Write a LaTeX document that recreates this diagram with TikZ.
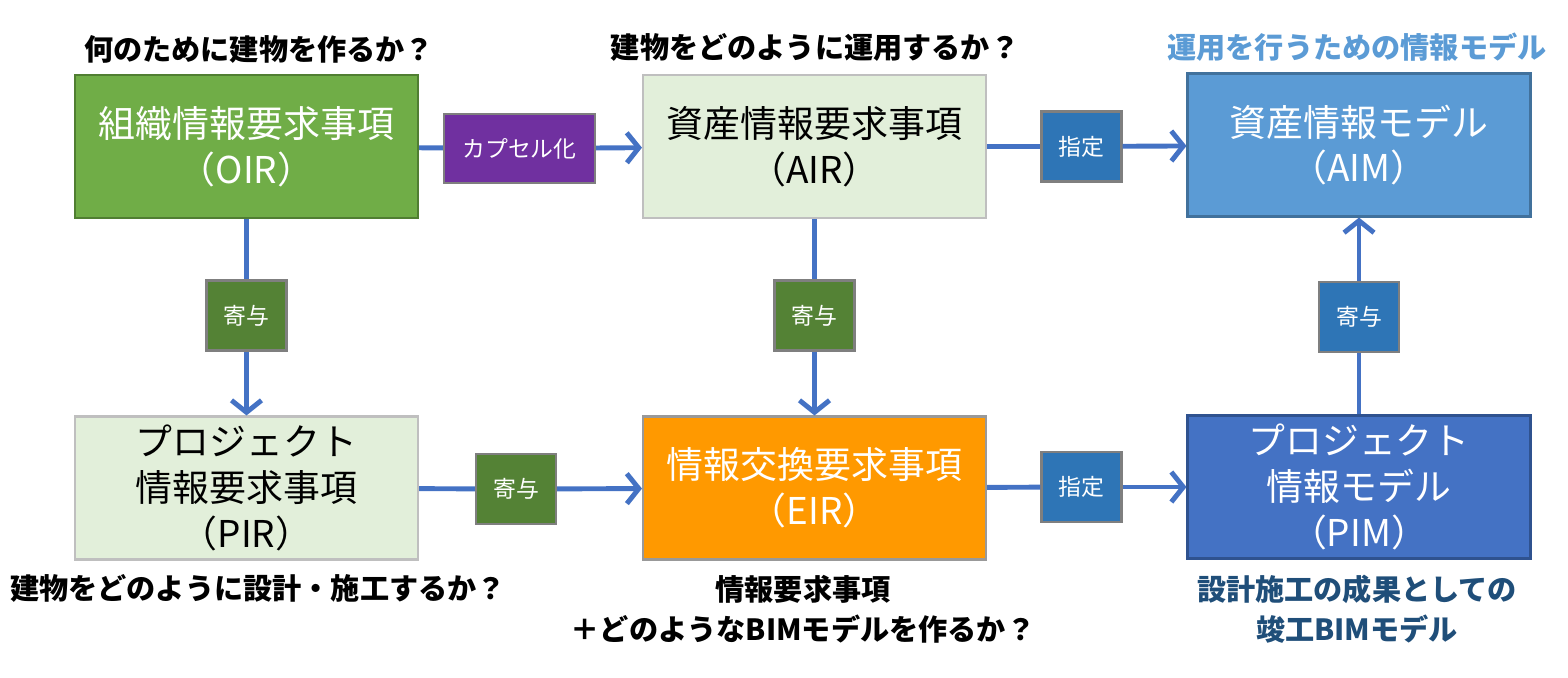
\documentclass[tikz,border=0pt]{standalone}
\usepackage{fontspec}
\setmainfont{Noto Sans CJK JP}
\usepackage{tikz}
\usetikzlibrary{arrows.meta, positioning}

\definecolor{oirgreen}{HTML}{70AD47}
\definecolor{oirline}{HTML}{507E32}
\definecolor{palegreen}{HTML}{E2EFDA}
\definecolor{paleline}{HTML}{BFBFBF}
\definecolor{aimblue}{HTML}{5B9BD5}
\definecolor{aimline}{HTML}{41719C}
\definecolor{pimblue}{HTML}{4472C4}
\definecolor{pimline}{HTML}{2F528F}
\definecolor{eirorange}{HTML}{FF9900}
\definecolor{capspurple}{HTML}{7030A0}
\definecolor{kiyogreen}{HTML}{548235}
\definecolor{shiteiblue}{HTML}{2E75B6}
\definecolor{tagline}{HTML}{7F7F7F}
\definecolor{arrowblue}{HTML}{4472C4}
\definecolor{darkblue}{HTML}{1F4E79}

\newcommand{\bigtxt}{\fontsize{21}{26}\selectfont}
\newcommand{\tagtxt}{\fontsize{13}{16}\selectfont}
\newcommand{\headtxt}{\fontsize{16.6}{23}\selectfont\bfseries}

\begin{document}
\begin{tikzpicture}[x=0.02cm, y=-0.02cm,
  bigbox/.style={draw, line width=1.2pt, minimum width=6.86cm, minimum height=2.86cm,
    align=center, font=\bigtxt, inner sep=0pt},
  tagbox/.style={draw=tagline, line width=1.2pt, minimum width=1.6cm, minimum height=1.4cm,
    text=white, font=\tagtxt, inner sep=0pt},
  headline/.style={font=\headtxt, align=center, inner sep=0pt},
  conn/.style={draw=arrowblue, line width=2.8pt},
  arr/.style={conn, -{Straight Barb[length=2.4mm, width=6mm]}}]
  \useasboundingbox (0,0) rectangle (1568,677);

  % 情報要求・情報モデルの箱
  \node[bigbox, fill=oirgreen, draw=oirline, text=white] (oir) at (246.5,146.5) {組織情報要求事項\\（OIR）};
  \node[bigbox, fill=palegreen, draw=paleline] (air) at (814.5,146.5) {資産情報要求事項\\（AIR）};
  \node[bigbox, fill=aimblue, draw=aimline, text=white] (aim) at (1359,145) {資産情報モデル\\（AIM）};
  \node[bigbox, fill=palegreen, draw=paleline] (pir) at (246.5,488) {プロジェクト\\情報要求事項\\（PIR）};
  \node[bigbox, fill=eirorange, draw=paleline!80!black, text=white] (eir) at (814.5,488) {情報交換要求事項\\（EIR）};
  \node[bigbox, fill=pimblue, draw=pimline, text=white] (pim) at (1359,487) {プロジェクト\\情報モデル\\（PIM）};

  % 関係のラベル
  \node[tagbox, fill=capspurple, minimum width=3.02cm, minimum height=1.38cm] (caps) at (519.5,148.5) {カプセル化};
  \node[tagbox, fill=shiteiblue] (spec1) at (1081.5,146.5) {指定};
  \node[tagbox, fill=kiyogreen] (contrib1) at (246.5,315.5) {寄与};
  \node[tagbox, fill=kiyogreen] (contrib2) at (814.5,315.5) {寄与};
  \node[tagbox, fill=shiteiblue] (contrib3) at (1359,317) {寄与};
  \node[tagbox, fill=kiyogreen] (contrib4) at (516,489) {寄与};
  \node[tagbox, fill=shiteiblue] (spec2) at (1081.5,487) {指定};

  % 矢印
  \draw[conn] (oir) -- (caps);
  \draw[arr] (caps) -- (air);
  \draw[conn] (air) -- (spec1);
  \draw[arr] (spec1) -- (aim);
  \draw[conn] (oir) -- (contrib1);
  \draw[arr] (contrib1) -- (pir);
  \draw[conn] (air) -- (contrib2);
  \draw[arr] (contrib2) -- (eir);
  \draw[conn] (pim) -- (contrib3);
  \draw[arr] (contrib3) -- (aim);
  \draw[conn] (pir) -- (contrib4);
  \draw[arr] (contrib4) -- (eir);
  \draw[conn] (eir) -- (spec2);
  \draw[arr] (spec2) -- (pim);

  % 問いかけ
  \node[headline] (q1) at (259,49) {何のために建物を作るか？};
  \node[headline] (q2) at (815,47) {建物をどのように運用するか？};
  \node[headline, text=aimblue] (q3) at (1357,47) {運用を行うための情報モデル};
  \node[headline] (q4) at (258,588) {建物をどのように設計・施工するか？};
  \node[headline] (q5) at (803,609) {情報要求事項\\＋どのようなBIMモデルを作るか？};
  \node[headline, text=darkblue] (q6) at (1357,609) {設計施工の成果としての\\竣工BIMモデル};
\end{tikzpicture}
\end{document}
